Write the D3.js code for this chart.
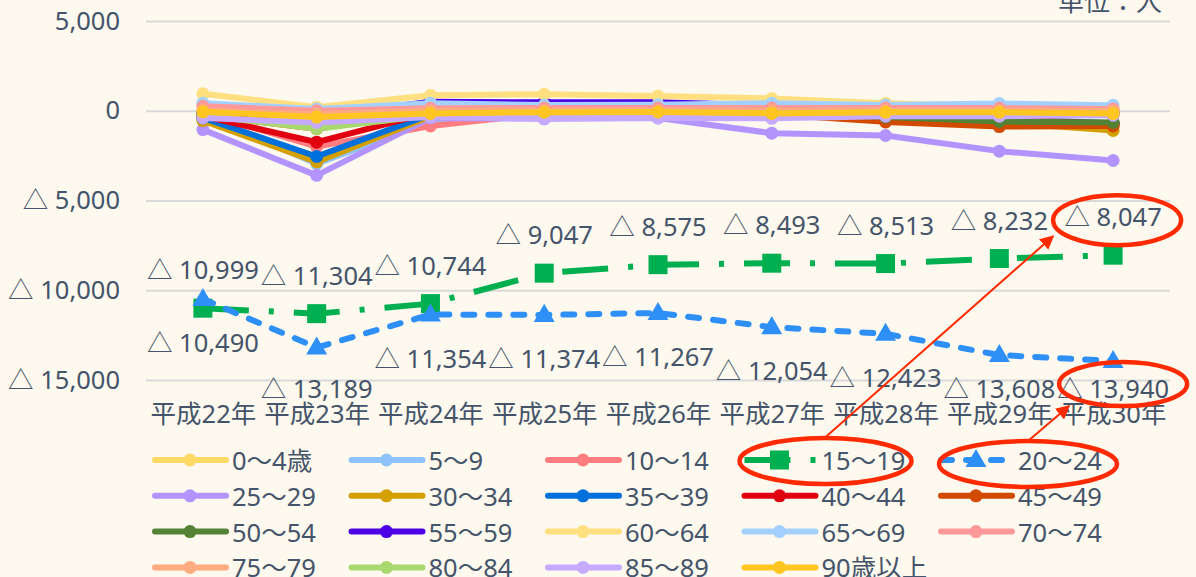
<!DOCTYPE html>
<html>
<head>
<meta charset="utf-8">
<script src="https://cdn.jsdelivr.net/npm/d3@7"></script>
<style>
  body { margin: 0; background: #fef9ee; }
  svg { display: block; }
  text { font-family: "Noto Sans", "Noto Sans CJK JP", sans-serif; fill: #44546a; }
</style>
</head>
<body>
<svg id="chart"></svg>
<script>
width = 1196,
height = 577;
fontSize = 25.5;

// categories
const years = ["平成22年", "平成23年", "平成24年", "平成25年", "平成26年", "平成27年", "平成28年", "平成29年", "平成30年"];
const ageLabels = ["0～4歳", "5～9", "10～14", "15～19", "20～24", "25～29", "30～34", "35～39", "40～44", "45～49",
  "50～54", "55～59", "60～64", "65～69", "70～74", "75～79", "80～84", "85～89", "90歳以上"];
const yTicks = [5000, 0, -5000, -10000, -15000];

// values (persons)
const v0_4   = [-300, -2700, -300, 0, 0, -50, -100, -150, -200];
const v5_9   = [-200, -2950, -600, -100, 0, -50, -100, -150, -200];
const v10_14 = [-100, -2000, -850, -150, -100, -100, -150, -150, -200];
const v15_19 = [-10999, -11304, -10744, -9047, -8575, -8493, -8513, -8232, -8047];
const v20_24 = [-10490, -13189, -11354, -11374, -11267, -12054, -12423, -13608, -13940];
const v25_29 = [-1050, -3600, -400, -450, -400, -1250, -1380, -2250, -2770];
const v30_34 = [-550, -2850, -300, -100, -100, -200, -400, -650, -1100];
const v35_39 = [-400, -2550, -200, -50, 0, -100, -250, -450, -700];
const v40_44 = [-300, -1750, -100, 0, 0, -100, -250, -450, -750];
const v45_49 = [-250, -1000, 0, 50, 0, -200, -620, -880, -850];
const v50_54 = [-200, -800, 100, 50, 0, -100, -350, -600, -650];
const v55_59 = [-100, -300, 500, 470, 470, 300, 150, 50, -100];
const v60_64 = [950, 200, 860, 920, 820, 680, 420, 250, 150];
const v65_69 = [420, 100, 420, 320, 330, 420, 320, 400, 300];
const v70_74 = [250, 0, 140, 150, 150, 150, 150, 150, 100];
const v75_79 = [0, -200, 0, 0, 0, 0, 0, 0, 0];
const v80_84 = [-250, -1000, -250, -150, -150, -150, -150, -200, -200];
const v85_89 = [-400, -650, -350, -420, -400, -420, -300, -300, -250];
const v90    = [-60, -350, -150, -80, -70, -150, -90, -90, -160];

const colors = ["#ffd966", "#8fc3fb", "#ff7c80", "#00b050", "#2e90f7", "#b394ff", "#d4a000", "#0070dd", "#e00010", "#d14a00",
  "#548235", "#4d00e6", "#ffdf80", "#a3d1ff", "#ff9999", "#ffab80", "#a9d96e", "#c5aaff", "#ffc520"];

const allValues = [v0_4, v5_9, v10_14, v15_19, v20_24, v25_29, v30_34, v35_39, v40_44, v45_49,
  v50_54, v55_59, v60_64, v65_69, v70_74, v75_79, v80_84, v85_89, v90];

const series = ageLabels.map((name, i) => ({ name: name, values: allValues[i], color: colors[i], idx: i }));

function fmt(v) {
  return v < 0 ? "△ " + d3.format(",")(-v) : d3.format(",")(v);
}

function draw() {
  var svg = d3.select("#chart").attr("width", width).attr("height", height);

  svg.append("rect").attr("width", width).attr("height", height).attr("fill", "#fef9ee");

  var x = d3.scalePoint().domain(years).range([146, 1170]).padding(0.5);
  var y = d3.scaleLinear().domain([5000, -15000]).range([21, 380]);

  // grid + y labels
  var gy = svg.append("g")
    .attr("transform", "translate(146,0)")
    .call(d3.axisLeft(y).tickValues(yTicks).tickSize(-1024).tickPadding(26).tickFormat(fmt));
  gy.select(".domain").remove();
  gy.selectAll("line").attr("stroke", "#d9d9d9").attr("stroke-width", 2);
  gy.selectAll("text").attr("font-size", fontSize).style("fill", "#44546a")
    .style("font-family", '"Noto Sans", "Noto Sans CJK JP", sans-serif');

  // x labels
  var gx = svg.append("g")
    .attr("transform", "translate(0,380)")
    .call(d3.axisBottom(x).tickSize(0).tickPadding(25));
  gx.select(".domain").remove();
  gx.selectAll("text").attr("font-size", fontSize).style("fill", "#44546a")
    .style("font-family", '"Noto Sans", "Noto Sans CJK JP", sans-serif');

  // unit (cut at top)
  svg.append("text").attr("x", 1162).attr("y", 11).attr("text-anchor", "end")
    .attr("font-size", 26).text("単位：人");

  var line = d3.line().x((d, i) => x(years[i])).y(d => y(d));

  function lineStyle(sel, s) {
    sel.attr("fill", "none").attr("stroke", s.color).attr("stroke-width", 6).attr("stroke-linejoin", "round");
    if (s.idx === 3) sel.attr("stroke-dasharray", "46,20,5,20");
    else if (s.idx === 4) sel.attr("stroke-dasharray", "11,14").attr("stroke-linecap", "round");
    else sel.attr("stroke-linecap", "round");
  }

  function marker(g, s, cx, cy) {
    if (s.idx === 3) {
      g.append("rect").attr("x", cx - 9.5).attr("y", cy - 9.5).attr("width", 19).attr("height", 19).attr("fill", s.color);
    } else if (s.idx === 4) {
      g.append("path").attr("d", d3.symbol().type(d3.symbolTriangle).size(190)()).attr("transform", "translate(" + cx + "," + (cy + 1) + ")").attr("fill", s.color);
    } else {
      g.append("circle").attr("cx", cx).attr("cy", cy).attr("r", 6.5).attr("fill", s.color);
    }
  }

  // series
  series.forEach(function(s) {
    var g = svg.append("g");
    g.append("path").datum(s.values).attr("d", line).call(lineStyle, s);
    s.values.forEach(function(v, i) { marker(g, s, x(years[i]), y(v)); });
  });

  // data labels for 15~19 (above) and 20~24 (below)
  var lab = svg.append("g").attr("font-size", fontSize).attr("text-anchor", "middle").attr("dominant-baseline", "central");
  lab.selectAll("text.g").data(v15_19).enter().append("text")
    .attr("x", (d, i) => x(years[i])).attr("y", d => y(d) - 39).text(fmt);
  lab.selectAll("text.b").data(v20_24).enter().append("text")
    .attr("x", (d, i) => x(years[i])).attr("y", d => Math.min(y(d) + 43, 388)).text(fmt);

  // legend
  var legend = svg.append("g");
  series.forEach(function(s, i) {
    var col = i % 5, row = Math.floor(i / 5);
    var tx = 232 + col * 196.5, ty = 460 + row * 35.8;
    var g = legend.append("g");
    g.append("path").attr("d", "M" + (tx - 77) + "," + ty + "H" + (tx - 6)).call(lineStyle, s);
    marker(g, s, tx - 42, ty);
    g.append("text").attr("x", tx).attr("y", ty).attr("dominant-baseline", "central").attr("font-size", fontSize).text(s.name);
  });

  // red annotations
  var red = "#ff2a00";
  svg.append("defs").append("marker").attr("id", "ah").attr("viewBox", "0 0 10 10")
    .attr("refX", 9).attr("refY", 5).attr("markerWidth", 7).attr("markerHeight", 7).attr("orient", "auto")
    .append("path").attr("d", "M0,0L10,5L0,10Z").attr("fill", red);

  var lx = x(years[8]);
  var e1 = { cx: lx + 4, cy: y(v15_19[8]) - 35, rx: 64, ry: 25 };
  var e2 = { cx: lx + 10, cy: Math.min(y(v20_24[8]) + 43, 388) - 4, rx: 64, ry: 22 };
  var e3 = { cx: 232 + 3 * 196.5 + 4, cy: 461, rx: 86, ry: 23 };
  var e4 = { cx: 232 + 4 * 196.5 + 10, cy: 464, rx: 89, ry: 23 };
  [e1, e2, e3, e4].forEach(function(e) {
    svg.append("ellipse").attr("cx", e.cx).attr("cy", e.cy).attr("rx", e.rx).attr("ry", e.ry)
      .attr("fill", "none").attr("stroke", red).attr("stroke-width", 4.5);
  });
  svg.append("line").attr("x1", e3.cx - 1).attr("y1", e3.cy - e3.ry)
    .attr("x2", e1.cx - 64).attr("y2", e1.cy + 16)
    .attr("stroke", red).attr("stroke-width", 2).attr("marker-end", "url(#ah)");
  svg.append("line").attr("x1", e4.cx).attr("y1", e4.cy - e4.ry)
    .attr("x2", e2.cx - 54).attr("y2", e2.cy + 22)
    .attr("stroke", red).attr("stroke-width", 2).attr("marker-end", "url(#ah)");
}

document.addEventListener('DOMContentLoaded', () => {
  draw();
});
</script>
</body>
</html>
